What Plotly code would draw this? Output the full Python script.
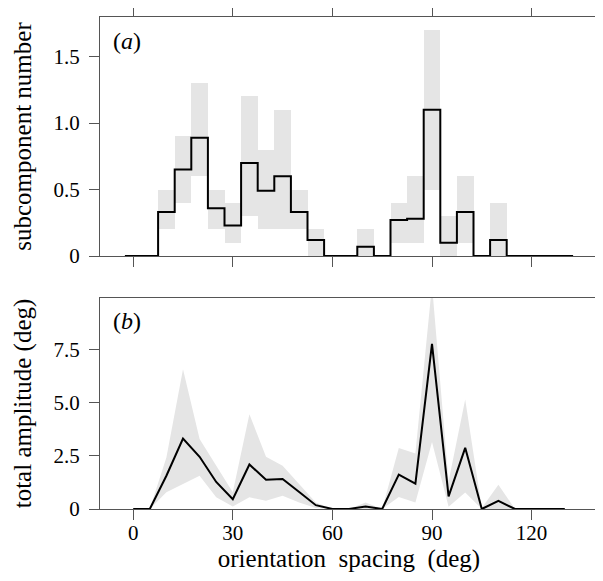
import plotly.graph_objects as go

# ---- data ----
spacing = [0, 5, 10, 15, 20, 25, 30, 35, 40, 45, 50, 55, 60, 65, 70, 75, 80, 85,
           90, 95, 100, 105, 110, 115, 120, 125, 130]

sub_mean = [0, 0, 0.33, 0.65, 0.89, 0.36, 0.23, 0.70, 0.49, 0.60, 0.33, 0.12, 0, 0,
            0.07, 0, 0.27, 0.28, 1.10, 0.10, 0.33, 0, 0.12, 0, 0, 0, 0]
sub_low = [0, 0, 0.2, 0.4, 0.6, 0.2, 0.1, 0.3, 0.2, 0.2, 0.2, 0, 0, 0,
           0, 0, 0.1, 0.1, 0.5, 0, 0.1, 0, 0, 0, 0, 0, 0]
sub_high = [0, 0, 0.5, 0.9, 1.3, 0.5, 0.4, 1.2, 0.8, 1.1, 0.5, 0.2, 0, 0,
            0.2, 0, 0.4, 0.6, 1.7, 0.3, 0.6, 0, 0.4, 0, 0, 0, 0]

amp_mean = [0, 0, 1.56, 3.30, 2.45, 1.27, 0.46, 2.09, 1.37, 1.41, 0.80, 0.18, 0, 0,
            0.12, 0, 1.61, 1.19, 7.75, 0.59, 2.87, 0, 0.38, 0, 0, 0, 0]
amp_low = [0, 0, 0.78, 1.17, 1.56, 0.55, 0.12, 0.55, 0.39, 0.62, 0.31, 0.05, 0, 0,
           0, 0, 0.56, 0.30, 3.14, 0.10, 0.77, 0, 0, 0, 0, 0, 0]
amp_high = [0, 0, 2.42, 6.56, 3.28, 2.03, 0.78, 4.45, 2.45, 2.03, 1.17, 0.31, 0, 0,
            0.30, 0, 2.86, 2.60, 10.5, 1.30, 5.14, 0.05, 1.14, 0, 0, 0, 0]

bin_width = 5
x_ticks = [0, 30, 60, 90, 120]
sub_ticks = [0, 0.5, 1.0, 1.5]
sub_ticktext = ["0", "0.5", "1.0", "1.5"]
amp_ticks = [0, 2.5, 5.0, 7.5]
amp_ticktext = ["0", "2.5", "5.0", "7.5"]

# ---- styling ----
FONT = "Liberation Serif"
GRAY = "#e5e5e5"
FRAME = "#555555"

# step-line edges derived from bin centres
edges = [c - bin_width / 2 for c in spacing] + [spacing[-1] + bin_width / 2]
step_y = sub_mean + [sub_mean[-1]]

fig = go.Figure()

# (a) gray ranges as bars
fig.add_trace(go.Bar(
    x=spacing, y=[h - l for h, l in zip(sub_high, sub_low)], base=sub_low,
    width=bin_width, marker=dict(color=GRAY, line=dict(width=0)),
    xaxis="x", yaxis="y", showlegend=False, hoverinfo="skip"))
fig.add_trace(go.Scatter(
    x=edges, y=step_y, mode="lines", line=dict(color="black", width=2, shape="hv"),
    xaxis="x", yaxis="y", showlegend=False))

# (b) gray band
fig.add_trace(go.Scatter(
    x=spacing, y=amp_low, mode="lines", line=dict(width=0, color=GRAY),
    xaxis="x2", yaxis="y2", showlegend=False, hoverinfo="skip"))
fig.add_trace(go.Scatter(
    x=spacing, y=amp_high, mode="lines", line=dict(width=0, color=GRAY),
    fill="tonexty", fillcolor=GRAY,
    xaxis="x2", yaxis="y2", showlegend=False, hoverinfo="skip"))
fig.add_trace(go.Scatter(
    x=spacing, y=amp_mean, mode="lines", line=dict(color="black", width=2),
    xaxis="x2", yaxis="y2", showlegend=False))

axis_common = dict(
    showgrid=False, zeroline=False, showline=True, linecolor=FRAME, linewidth=1,
    ticks="outside", ticklen=10, tickwidth=1, tickcolor=FRAME, automargin=False,
    tickfont=dict(family=FONT, size=21, color="black"),
)

fig.update_layout(
    width=603, height=581,
    margin=dict(l=92, r=13, t=9, b=80),
    plot_bgcolor="white", paper_bgcolor="white",
    bargap=0,
    font=dict(family=FONT, color="black"),
    xaxis=dict(axis_common, domain=[0, 1], range=[-10, 140], anchor="y",
               tickvals=x_ticks, showticklabels=False, mirror="ticks"),
    yaxis=dict(axis_common, domain=[0.5142, 1], range=[0, 1.797], anchor="x",
               tickvals=sub_ticks, ticktext=sub_ticktext, mirror="ticks",
               ticklabelstandoff=5,
               title=dict(text="subcomponent number",
                          font=dict(family=FONT, size=25), standoff=14)),
    xaxis2=dict(axis_common, domain=[0, 1], range=[-10, 140], anchor="y2",
                tickvals=x_ticks, mirror=True, ticklabelstandoff=-5,
                title=dict(text="orientation\u00a0 spacing\u00a0 (deg)",
                           font=dict(family=FONT, size=25), standoff=0)),
    yaxis2=dict(axis_common, domain=[0, 0.4289], range=[0, 9.9], anchor="x2",
                tickvals=amp_ticks, ticktext=amp_ticktext, mirror="ticks",
                ticklabelstandoff=5,
                title=dict(text="total amplitude (deg)",
                           font=dict(family=FONT, size=25), standoff=14)),
    annotations=[
        dict(text="(<i>a</i>)", xref="x domain", yref="y domain", x=0.022, y=0.9,
             xanchor="left", yanchor="middle", showarrow=False,
             font=dict(family=FONT, size=24, color="black")),
        dict(text="(<i>b</i>)", xref="x2 domain", yref="y2 domain", x=0.022, y=0.89,
             xanchor="left", yanchor="middle", showarrow=False,
             font=dict(family=FONT, size=24, color="black")),
    ],
)

fig.write_html("out.html")
